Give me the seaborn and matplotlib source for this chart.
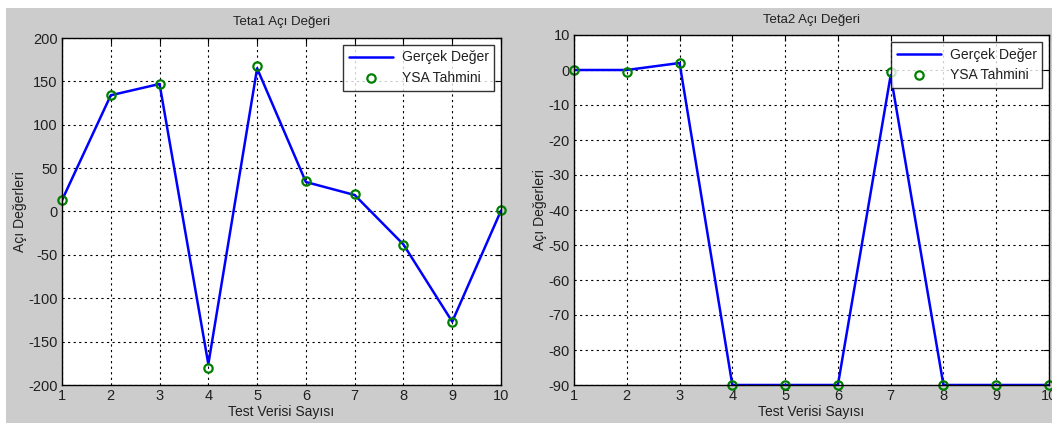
import numpy as np
import pandas as pd
import matplotlib
matplotlib.use('Agg')
import matplotlib.pyplot as plt
import seaborn as sns
from matplotlib.patches import Rectangle

test_no = [1, 2, 3, 4, 5, 6, 7, 8, 9, 10]

teta1_gercek = [13, 134, 147, -176, 165, 34, 19, -38, -127, 1]
teta1_ysa = [13, 134, 147, -180, 168, 35, 20, -39, -127, 2]

teta2_gercek = [0, 0, 2, -90, -90, -90, -1.5, -90, -90, -90]
teta2_ysa = [0, -0.5, 2, -90, -90, -90, -0.5, -90, -90, -90]

titles = ['Teta1 Açı Değeri', 'Teta2 Açı Değeri']
ylims = [(-200, 200), (-90, 10)]
ysteps = [50, 10]

sns.set_theme(style='white')
plt.rcParams['font.family'] = ['Liberation Sans', 'DejaVu Sans']
plt.rcParams['axes.unicode_minus'] = False
text_color = '#202020'

fig = plt.figure(figsize=(10.52, 4.23), dpi=100, facecolor='white')
# gray figure window background (screenshot leaves a thin white border at top/left)
fig.patches.append(Rectangle((6 / 1052, 0), 1 - 6 / 1052, 1 - 8 / 423,
                             transform=fig.transFigure, facecolor='#cccccc',
                             edgecolor='none', zorder=-10))

positions = [
    [62 / 1052, 38 / 423, 439 / 1052, 347 / 423],
    [574 / 1052, 38 / 423, 475 / 1052, 350 / 423],
]
ylabel_pads = [1, 1]

series = [(teta1_gercek, teta1_ysa), (teta2_gercek, teta2_ysa)]

for i in range(2):
    ax = fig.add_axes(positions[i])
    ax.set_facecolor('white')
    df = pd.DataFrame({'x': test_no, 'gercek': series[i][0], 'ysa': series[i][1]})

    sns.lineplot(data=df, x='x', y='gercek', ax=ax, color='#0000ff', linewidth=1.8,
                 label='Gerçek Değer', zorder=3)
    sns.lineplot(data=df, x='x', y='ysa', ax=ax, linestyle='none', marker='o',
                 markersize=6, markerfacecolor='none', markeredgecolor='#008000',
                 markeredgewidth=1.6, label='YSA Tahmini', zorder=4, clip_on=False)

    ax.set_xlim(1, 10)
    ax.set_ylim(*ylims[i])
    ax.set_xticks(test_no)
    ax.set_yticks(np.arange(ylims[i][0], ylims[i][1] + 1, ysteps[i]))
    ax.grid(True, color='black', linestyle=(0, (2, 3)), linewidth=0.8)
    ax.tick_params(direction='in', length=4, width=0.8, top=True, right=True,
                   labelsize=10.5, colors='black', labelcolor=text_color, pad=3)
    for sp in ax.spines.values():
        sp.set_color('black')
        sp.set_linewidth(1.0)
        sp.set_zorder(5)

    ax.set_title(titles[i], fontsize=9.5, color=text_color, pad=9)
    ax.set_xlabel('Test Verisi Sayısı', fontsize=10, color=text_color, labelpad=1)
    ax.set_ylabel('Açı Değerleri', fontsize=10, color=text_color, labelpad=ylabel_pads[i])

    leg = ax.legend(loc='upper right', fontsize=10, frameon=True, fancybox=False,
                    borderaxespad=0.5, handlelength=3.2, borderpad=0.4,
                    labelspacing=0.5, handletextpad=0.6)
    leg.get_frame().set_edgecolor('black')
    leg.get_frame().set_linewidth(1.0)
    for t in leg.get_texts():
        t.set_color(text_color)

plt.savefig('out.png', dpi=100, facecolor=fig.get_facecolor())
